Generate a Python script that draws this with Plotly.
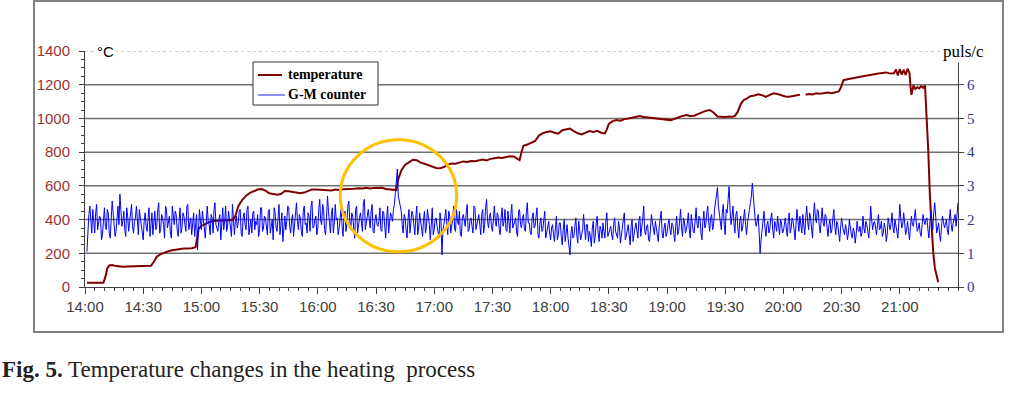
import pandas as pd
import plotly.graph_objects as go

# ---------------- data ----------------
START = pd.Timestamp("2000-01-01 14:00")
END_MINUTE = 450  # 21:30

# temperature (°C); minutes after 14:00
temp_minutes = [
    1, 3, 5, 7, 9.5, 10.5, 11.5, 12.5, 14, 16,
    18, 20, 22, 24, 26, 28, 30, 32, 34, 35.5,
    37, 39, 41, 43, 45, 47, 49, 51, 53, 55,
    57, 57.8, 58.6, 60, 62, 64, 66, 68, 70, 72,
    74, 76, 77.5, 79, 81, 83, 85, 87, 89, 91,
    93, 95, 97, 99, 101, 103, 105, 107, 109, 111,
    113, 115, 117, 119, 121, 123, 125, 127, 129, 131,
    133, 135, 137, 139, 141, 143, 145, 147, 149, 151,
    153, 155, 157, 159, 160.5, 161.5, 163, 165, 167, 169,
    171, 173, 175, 177, 179, 181, 183, 185, 187, 189,
    191, 193, 195, 197, 199, 201, 203, 205, 207, 209,
    211, 213, 215, 217, 219, 221, 223, 224, 225, 226,
    228, 230, 232, 234, 236, 238, 240, 242, 244, 246,
    248, 250, 252, 254, 256, 258, 260, 262, 264, 266,
    268, 269, 270, 272, 274, 276, 278, 280, 282, 284,
    286, 288, 290, 292, 294, 296, 298, 300, 302, 304,
    306, 308, 310, 312, 314, 316, 318, 320, 322, 324,
    326, 328, 330, 332, 334, 335, 336.5, 338, 339.5, 341,
    343, 345, 347, 349, 351, 353, 355, 357, 359, 361,
    363, 365, 367, 368.5, 369.5, 371.5, 373, 375, 377, 379,
    381, 383, 385, 387, 388.5, 389.5, 391, 393, 395, 397,
    399, 401, 403, 405, 407, 409, 411, 413, 415, 417,
    418, 419, 420, 421, 422, 423, 424, 425, 425.5, 426,
    427, 428, 429, 430, 431, 432, 433, 433.8, 434.7, 435.5,
    436.4, 437.2, 438.1, 439, 439.8,
]
temp_values = [
    25, 25, 26, 25, 25, 60, 110, 128, 130, 124,
    121, 120, 121, 122, 124, 124, 125, 127, 126, 150,
    180, 195, 205, 212, 218, 222, 226, 228, 229, 230,
    236, 300, 345, 362, 375, 385, 392, 393, 394, 395,
    395, 398, 420, 480, 515, 542, 558, 570, 578, 581,
    572, 556, 550, 548, 552, 570, 568, 565, 561, 556,
    560, 572, 579, 578, 576, 577, 575, 573, 578, 576,
    580, 581, 578, 583, 586, 584, 589, 585, 588, 590,
    589, 581, 578, 576, 575, 640, 690, 725, 742, 755,
    752, 738, 731, 722, 714, 706, 704, 712, 726, 733,
    731, 738, 745, 742, 748, 746, 752, 756, 751, 760,
    764, 768, 765, 772, 776, 774, 762, 752, 800, 838,
    845, 858, 866, 898, 912, 920, 924, 915, 910, 930,
    936, 940, 925, 912, 905, 915, 925, 920, 926, 915,
    911, 935, 968, 984, 990, 986, 996, 1000, 1005, 1010,
    1014, 1008, 1005, 1006, 1002, 1000, 996, 993, 990, 998,
    1008, 1015, 1020, 1014, 1016, 1028, 1036, 1045, 1050, 1035,
    1012, 1010, 1008, 1012, 1010, 1015, 1040, 1085, 1108, 1118,
    1132, 1136, 1143, 1138, 1128, 1140, 1149, 1145, 1138, 1130,
    1128, 1135, 1138, 1140, None, 1140, 1145, 1142, 1149, 1146,
    1150, 1154, 1150, 1156, 1160, 1180, 1227, 1232, 1238, 1241,
    1246, 1250, 1255, 1257, 1262, 1266, 1270, 1273, 1266, 1268,
    1290, 1255, 1292, 1260, 1288, 1258, 1295, 1270, 1190, 1140,
    1195, 1175, 1185, 1178, 1192, 1182, 1195, 1040, 802, 545,
    368, 209, 111, 60, 28,
]

# G-M counter (puls/c): readings on the whole minute from 14:01 ...
gm_first_minute = 1
gm_counts = [
    1.05, 2.15, 1.75, 2.30, 1.60, 2.45, 1.85, 2.05, 1.55, 2.35,
    1.70, 2.20, 1.45, 2.55, 1.90, 1.65, 2.40, 2.75, 1.80, 2.25,
    1.50, 2.10, 1.95, 2.45, 1.60, 2.05, 1.75, 2.30, 1.85, 1.40,
    2.20, 1.65, 2.35, 1.90, 1.55, 2.25, 1.80, 2.50, 1.70, 2.05,
    1.45, 2.30, 1.95, 1.60, 2.40, 1.85, 2.15, 1.50, 2.35, 1.75,
    2.10, 1.65, 2.45, 1.90, 1.55, 2.20, 1.80, 1.10, 2.30, 1.70,
    2.05, 1.45, 2.40, 1.85, 2.15, 1.60, 2.50, 1.75, 2.00, 1.40,
    2.35, 1.95, 1.65, 2.25, 1.80, 2.45, 1.55, 2.10, 1.90, 2.30,
    1.50, 2.20, 1.70, 2.40, 1.85, 1.60, 2.25, 1.95, 2.15, 1.70,
    2.35, 1.75, 2.05, 1.55, 2.30, 1.90, 1.40, 2.20, 1.65, 2.45,
    1.80, 1.35, 2.10, 1.95, 2.35, 1.60, 2.15, 1.85, 2.50, 1.70,
    2.05, 1.50, 2.40, 1.90, 2.20, 1.65, 2.55, 1.80, 2.10, 1.75,
    2.60, 1.85, 2.30, 1.55, 2.70, 1.95, 2.15, 1.60, 2.45, 2.05,
    1.75, 2.35, 1.50, 2.25, 1.90, 2.55, 1.70, 2.10, 1.45, 2.40,
    1.95, 2.20, 1.65, 2.60, 1.85, 2.30, 1.75, 2.45, 1.60, 2.15,
    1.80, 2.35, 1.65, 2.20, 1.45, 2.40, 1.90, 2.10, 2.30, 2.80,
    3.50, 2.55, 2.25, 1.60, 2.05, 1.45, 2.30, 1.85, 2.15, 1.55,
    2.40, 1.75, 1.95, 1.50, 2.25, 1.80, 2.10, 1.40, 2.35, 1.70,
    2.05, 1.60, 2.20, 0.95, 1.85, 2.30, 1.55, 2.10, 1.75, 2.40,
    1.65, 1.95, 2.25, 1.50, 2.15, 1.80, 2.45, 1.70, 2.05, 1.60,
    2.35, 1.90, 2.15, 1.55, 2.30, 1.85, 2.60, 1.75, 2.20, 1.65,
    2.40, 1.80, 2.10, 1.55, 2.35, 1.95, 1.70, 2.25, 1.60, 2.45,
    1.85, 2.05, 1.50, 2.30, 1.75, 2.15, 1.65, 2.50, 1.90, 1.55,
    2.20, 1.80, 2.35, 1.45, 2.05, 1.70, 2.25, 1.60, 1.95, 1.40,
    1.85, 1.35, 2.10, 1.55, 1.90, 1.25, 2.00, 1.60, 1.45, 0.95,
    1.80, 1.50, 2.05, 1.30, 1.75, 1.55, 2.15, 1.40, 1.85, 1.65,
    1.20, 1.95, 1.50, 2.10, 1.35, 1.70, 1.90, 1.45, 2.20, 1.60,
    1.80, 1.40, 2.05, 1.55, 1.95, 1.30, 1.75, 2.20, 1.50, 1.85,
    1.25, 2.00, 1.60, 1.90, 1.45, 2.10, 1.70, 2.40, 1.55, 1.85,
    1.35, 2.15, 1.65, 1.95, 1.50, 1.80, 2.25, 1.45, 1.90, 1.60,
    2.00, 1.55, 1.85, 1.35, 2.10, 1.65, 2.30, 1.50, 1.95, 1.70,
    2.20, 1.45, 1.90, 1.60, 2.35, 1.75, 2.05, 1.40, 2.25, 1.85,
    2.40, 1.65, 2.15, 1.80, 2.50, 2.95, 2.10, 1.70, 2.45, 1.55,
    2.20, 2.98, 1.85, 2.40, 1.60, 2.25, 1.45, 2.10, 1.75, 2.30,
    1.55, 2.05, 2.50, 3.08, 2.35, 1.80, 2.15, 1.00, 1.65, 2.25,
    1.50, 1.95, 1.70, 2.20, 1.45, 1.85, 2.10, 1.55, 1.90, 1.65,
    2.05, 1.50, 2.20, 1.75, 1.95, 1.40, 2.30, 1.65, 1.85, 2.15,
    1.55, 2.40, 1.70, 2.05, 1.45, 2.50, 1.90, 2.25, 1.60, 2.35,
    1.80, 2.10, 1.50, 2.00, 1.70, 2.30, 1.55, 1.85, 1.35, 2.05,
    1.60, 1.85, 1.40, 2.00, 1.55, 1.75, 1.30, 1.95, 1.65, 1.50,
    2.10, 1.60, 1.85, 1.45, 2.40, 1.70, 1.95, 1.55, 2.15, 1.75,
    1.50, 1.90, 1.35, 2.05, 1.70, 2.20, 1.60, 1.85, 1.45, 2.45,
    1.75, 2.20, 1.55, 1.95, 1.40, 2.10, 1.80, 2.30, 1.65, 1.90,
    1.50, 2.15, 1.85, 2.05, 1.45, 2.25, 1.70, 2.50, 1.60, 1.90,
    1.35, 2.10, 1.75, 2.00, 1.55, 2.30, 1.65, 2.05, 1.80, 2.50,
]
# ... and the readings on the half minute from 14:01:30
gm_half_first_minute = 1.5
gm_counts_half = [
    1.9, 2.4, 1.6, 2.0, 2.2, 1.7, 2.1, 1.4, 2.0, 1.8,
    2.3, 1.6, 2.0, 2.2, 1.5, 2.05, 1.85, 2.3, 1.95, 1.7,
    2.35, 1.65, 2.25, 1.8, 1.95, 2.4, 1.55, 2.1, 1.7, 1.95,
    1.8, 2.05, 1.5, 2.2, 1.95, 1.7, 2.3, 1.6, 2.15, 1.85,
    2.4, 1.75, 2.1, 1.45, 2.0, 2.25, 1.7, 1.95, 1.6, 2.2,
    1.85, 2.4, 1.7, 2.05, 1.9, 1.5, 2.15, 1.6, 1.95, 2.25,
    1.75, 2.2, 1.95, 1.55, 2.05, 2.3, 1.85, 1.65, 2.15, 1.9,
    1.7, 2.4, 1.8, 2.0, 1.5, 2.1, 1.95, 1.75, 2.25, 1.6,
    2.05, 1.85, 2.3, 1.55, 2.0, 2.2, 1.7, 1.85, 1.5, 2.35,
    1.65, 2.1, 1.85, 2.25, 1.6, 2.0, 2.35, 1.75, 2.05, 1.55,
    2.2, 1.9, 1.7, 2.4, 1.8, 2.0, 1.5, 2.3, 1.95, 2.15,
    1.65, 2.25, 1.85, 1.6, 2.1, 2.4, 1.75, 2.0, 1.55, 2.3,
    1.95, 2.45, 1.7, 2.05, 2.25, 1.6, 2.35, 1.9, 2.0, 1.55,
    2.2, 1.8, 2.1, 1.65, 2.4, 1.95, 2.2, 1.75, 2.3, 1.6,
    2.05, 1.85, 2.5, 1.7, 2.1, 1.9, 2.25, 1.65, 2.0, 1.85,
    1.95, 1.7, 2.25, 1.8, 2.05, 1.6, 2.2, 1.95, 2.45, 3.2,
    2.7, 2.3, 1.85, 2.15, 1.7, 2.0, 1.6, 2.25, 1.8, 2.05,
    1.55, 2.2, 1.75, 2.0, 1.6, 2.3, 1.85, 2.05, 1.55, 2.0,
    1.8, 1.45, 1.95, 1.7, 2.1, 1.85, 2.25, 1.6, 2.0, 1.75,
    2.3, 1.85, 1.55, 2.05, 1.9, 2.2, 1.65, 2.0, 1.8, 2.4,
    1.7, 2.05, 1.85, 2.15, 1.6, 2.35, 1.95, 2.1, 1.8, 2.0,
    1.95, 2.2, 1.7, 2.05, 1.8, 2.3, 1.65, 1.95, 2.15, 1.75,
    2.0, 1.6, 2.25, 1.85, 2.05, 1.7, 2.2, 1.9, 1.6, 2.05,
    1.75, 2.1, 1.55, 1.9, 1.65, 2.0, 1.45, 1.85, 1.6, 1.75,
    1.55, 1.75, 1.4, 1.9, 1.5, 1.7, 1.35, 1.85, 1.2, 1.6,
    1.45, 1.8, 1.55, 1.95, 1.4, 1.7, 1.6, 1.85, 1.35, 1.5,
    1.75, 1.3, 1.9, 1.6, 1.8, 1.45, 1.65, 1.95, 1.5, 1.7,
    1.55, 1.85, 1.65, 1.45, 1.75, 1.6, 2.0, 1.4, 1.7, 1.55,
    1.8, 1.35, 1.75, 1.6, 1.95, 1.5, 2.05, 1.65, 1.8, 1.4,
    1.7, 1.9, 1.55, 1.75, 1.35, 2.0, 1.6, 1.75, 1.5, 1.85,
    1.7, 1.9, 1.6, 1.8, 1.55, 1.95, 1.75, 2.05, 1.6, 1.9,
    1.7, 2.15, 1.65, 2.0, 1.85, 2.1, 1.6, 1.95, 1.75, 2.2,
    1.9, 2.05, 1.7, 2.3, 2.6, 2.4, 1.95, 2.2, 1.85, 2.3,
    2.6, 2.3, 2.1, 1.9, 2.15, 1.75, 1.95, 1.65, 2.05, 1.85,
    1.9, 2.3, 2.7, 2.6, 1.95, 2.05, 1.6, 1.4, 1.9, 1.75,
    1.85, 1.6, 2.05, 1.7, 1.95, 1.65, 1.8, 2.0, 1.6, 1.85,
    1.75, 1.95, 1.6, 2.05, 1.7, 1.85, 1.95, 2.1, 1.6, 1.8,
    2.05, 1.95, 2.2, 1.75, 2.1, 2.05, 2.3, 1.8, 2.0, 1.9,
    2.15, 1.75, 1.85, 1.6, 2.05, 1.8, 1.95, 1.6, 1.75, 1.8,
    1.55, 1.7, 1.6, 1.75, 1.45, 1.65, 1.55, 1.7, 1.8, 1.6,
    1.75, 1.95, 1.65, 1.8, 2.0, 1.9, 1.75, 1.85, 1.7, 1.95,
    1.6, 1.75, 1.55, 1.85, 1.9, 1.75, 2.0, 1.65, 1.9, 2.05,
    1.85, 1.9, 1.7, 1.65, 1.8, 1.85, 2.05, 1.9, 1.75, 1.6,
    1.85, 1.95, 2.0, 1.7, 1.9, 1.95, 2.2, 2.1, 1.75, 1.55,
    1.8, 1.95, 1.85, 1.7, 2.0, 1.85, 1.9, 2.15, 2.2,
]

x_tick_labels = ["14:00", "14:30", "15:00", "15:30", "16:00", "16:30", "17:00",
                 "17:30", "18:00", "18:30", "19:00", "19:30", "20:00", "20:30", "21:00"]
left_ticks = [0, 200, 400, 600, 800, 1000, 1200, 1400]
right_ticks = [0, 1, 2, 3, 4, 5, 6]
grid_levels = [200, 400, 600, 800, 1000, 1200]
legend_names = ["temperature", "G-M counter"]

# highlighted event (circle) around the G-M spike
event_minute = 161.6
event_half_width_min = 30
event_temp_span = (209, 874)

TEMP_COLOR = "#800000"
GM_COLOR = "#0000ff"


def at(minutes):
    return [START + pd.Timedelta(minutes=m) for m in minutes]


gm_points = sorted(
    [(gm_first_minute + i, v) for i, v in enumerate(gm_counts)]
    + [(gm_half_first_minute + i, v) for i, v in enumerate(gm_counts_half)]
)
gm_minutes = [p[0] for p in gm_points]
gm_values = [p[1] for p in gm_points]
x_tick_vals = [pd.Timestamp("2000-01-01 " + lab) for lab in x_tick_labels]

fig = go.Figure()
fig.add_trace(go.Scatter(
    x=at(temp_minutes), y=temp_values, name=legend_names[0],
    mode="lines", line=dict(color=TEMP_COLOR, width=2), connectgaps=False,
))
fig.add_trace(go.Scatter(
    x=at(gm_minutes), y=gm_values, name=legend_names[1],
    mode="lines", line=dict(color=GM_COLOR, width=1), yaxis="y2",
))


# plot-area pixel helpers (plot area: 873 x 236 px)
def px_x(p):
    return (p - 85) / 873


def px_y(p):
    return (287 - p) / 236


shapes = []
for g in grid_levels:
    shapes.append(dict(type="line", xref="paper", x0=0, x1=1, yref="y", y0=g, y1=g,
                       line=dict(color="#707070", width=1.5), layer="below"))
shapes.append(dict(type="line", xref="paper", x0=0, x1=1, yref="y", y0=1400, y1=1400,
                   line=dict(color="#a0a0a0", width=1, dash="dot"), layer="below"))
shapes.append(dict(type="circle", xref="x", yref="y",
                   x0=START + pd.Timedelta(minutes=event_minute - event_half_width_min),
                   x1=START + pd.Timedelta(minutes=event_minute + event_half_width_min),
                   y0=event_temp_span[0], y1=event_temp_span[1],
                   line=dict(color="#FFC000", width=3)))
# outer frame
shapes.append(dict(type="rect", xref="paper", yref="paper",
                   x0=px_x(34), x1=px_x(1003), y0=px_y(332), y1=px_y(1),
                   line=dict(color="#808080", width=2)))
# manual legend box + samples
shapes.append(dict(type="rect", xref="paper", yref="paper",
                   x0=px_x(253), x1=px_x(378), y0=px_y(105), y1=px_y(62),
                   line=dict(color="#333333", width=1), fillcolor="white"))
shapes.append(dict(type="line", xref="paper", yref="paper",
                   x0=px_x(258), x1=px_x(282), y0=px_y(75), y1=px_y(75),
                   line=dict(color=TEMP_COLOR, width=2)))
shapes.append(dict(type="line", xref="paper", yref="paper",
                   x0=px_x(258), x1=px_x(285), y0=px_y(95), y1=px_y(95),
                   line=dict(color="#6a6aff", width=1.5)))

axis_col = "#404040"
fig.update_layout(
    width=1019, height=393, autosize=False,
    margin=dict(l=85, r=61, t=51, b=106, pad=0),
    paper_bgcolor="white", plot_bgcolor="white",
    showlegend=False,
    xaxis=dict(type="date", range=[START, START + pd.Timedelta(minutes=END_MINUTE)],
               tickmode="array", tickvals=x_tick_vals, ticktext=x_tick_labels,
               ticks="outside", ticklen=6, tickcolor=axis_col, tickwidth=1,
               showline=True, linecolor=axis_col, linewidth=1,
               tickfont=dict(family="Liberation Sans", size=15, color="#404040"),
               minor=dict(tickmode="linear", tick0=START, dtick=5 * 60 * 1000,
                          ticks="outside", ticklen=3, tickcolor=axis_col, showgrid=False),
               showgrid=False, zeroline=False),
    yaxis=dict(range=[0, 1400], tickvals=left_ticks,
               ticks="outside", ticklen=5, tickcolor=axis_col, ticklabelstandoff=6,
               minor=dict(dtick=50, ticks="outside", ticklen=3, tickcolor=axis_col, showgrid=False),
               showline=True, linecolor=axis_col, linewidth=1,
               tickfont=dict(family="Liberation Sans", size=15, color="#993333"),
               showgrid=False, zeroline=False),
    yaxis2=dict(range=[0, 7], tickvals=right_ticks, overlaying="y", side="right",
                ticks="outside", ticklen=5, tickcolor=axis_col,
                showline=True, linecolor=axis_col, linewidth=1,
                tickfont=dict(family="Liberation Serif", size=15, color="#333399"),
                showgrid=False, zeroline=False),
    shapes=shapes,
    annotations=[
        dict(text="°C", xref="paper", x=px_x(95), xanchor="left",
             yref="y", y=1400, yanchor="middle", showarrow=False, bgcolor="white",
             font=dict(family="Liberation Sans", size=15, color="black")),
        dict(text="puls/c", xref="paper", x=px_x(941), xanchor="left",
             yref="y", y=1400, yanchor="middle", showarrow=False, bgcolor="white",
             font=dict(family="Liberation Serif", size=17, color="black")),
        dict(text="<b>" + legend_names[0] + "</b>", xref="paper", x=px_x(286), xanchor="left",
             yref="paper", y=px_y(75), yanchor="middle", showarrow=False,
             font=dict(family="Liberation Serif", size=14, color="black")),
        dict(text="<b>" + legend_names[1] + "</b>", xref="paper", x=px_x(286), xanchor="left",
             yref="paper", y=px_y(95), yanchor="middle", showarrow=False,
             font=dict(family="Liberation Serif", size=14, color="black")),
        dict(text="<b>Fig. 5.</b> Temperature changes in the heating&nbsp; process",
             xref="paper", x=px_x(0), xanchor="left",
             yref="paper", y=px_y(369), yanchor="middle", showarrow=False,
             font=dict(family="Liberation Serif", size=23, color="#222222")),
    ],
)

fig.write_html("out.html", config={"displayModeBar": False},
               post_script="document.body.style.margin='0px';")
